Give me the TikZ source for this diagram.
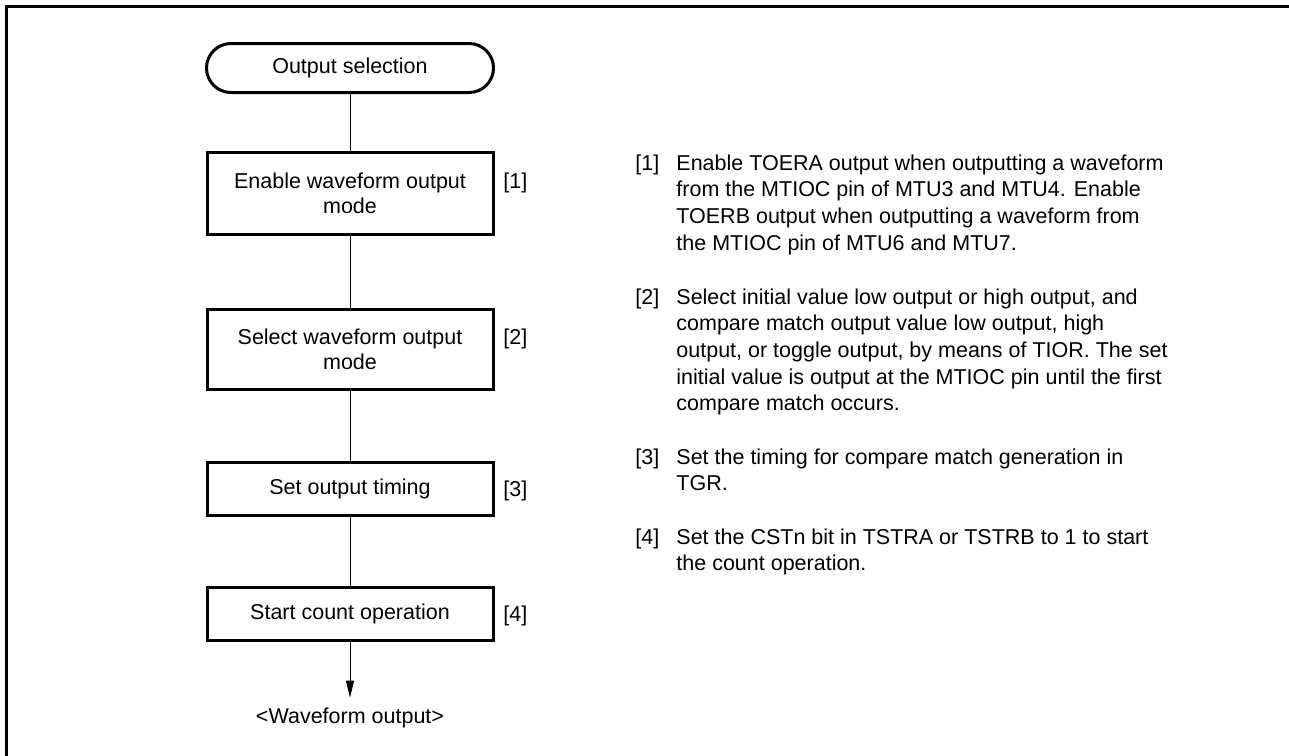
\documentclass[tikz,border=0pt]{standalone}
\usepackage{fontspec}
\setmainfont{Liberation Sans}
\usetikzlibrary{arrows.meta}
\begin{document}
\begin{tikzpicture}[x=0.5pt,y=-0.5pt,
  every node/.style={font=\fontsize{10.75}{12.5}\selectfont},
  stepbox/.style={draw, line width=1.5pt, minimum width=143pt, align=center, inner sep=0pt},
  term/.style={draw, line width=1.5pt, minimum width=143.5pt, minimum height=24.5pt, rounded corners=12.25pt, inner sep=0pt},
  conn/.style={line width=0.5pt},
  tag/.style={anchor=base west, inner sep=0pt},
  note/.style={anchor=base west, inner sep=0pt}]
\useasboundingbox (0,0) rectangle (1289,755);
% frame
\draw[line width=1.5pt, line join=miter] (6,770) -- (6,6) -- (1300,6);
% flowchart
\node[term] (t) at (350,68) {Output selection};
\node[stepbox, minimum height=41pt] (b1) at (350,193) {Enable waveform output\\mode};
\node[stepbox, minimum height=40pt] (b2) at (350,349) {Select waveform output\\mode};
\node[stepbox, minimum height=26.5pt] (b3) at (350,488.5) {Set output timing};
\node[stepbox, minimum height=26.5pt] (b4) at (350,613.5) {Start count operation};
\node[inner xsep=0pt, inner ysep=5pt] (out) at (350,718) {<Waveform output>};
\draw[conn] (t) -- (b1);
\draw[conn] (b1) -- (b2);
\draw[conn] (b2) -- (b3);
\draw[conn] (b3) -- (b4);
\draw[conn, -{Triangle[width=4pt,length=8.5pt]}] (b4) -- (out);
% box tags
\node[tag] (l1) at (503,188) {[1]};
\node[tag] (l2) at (503,344.5) {[2]};
\node[tag] (l3) at (503,496) {[3]};
\node[tag] (l4) at (503,621) {[4]};
% notes
\node[tag] (n1) at (635,170) {[1]};
\node[note] (m1) at (676,170) {\parbox[t]{300pt}{\fontsize{10.75}{13.35}\selectfont
Enable TOERA output when outputting a waveform\\
from the MTIOC pin of MTU3 and MTU4. Enable\\
TOERB output when outputting a waveform from\\
the MTIOC pin of MTU6 and MTU7.}};
\node[tag] (n2) at (635,304) {[2]};
\node[note] (m2) at (676,304) {\parbox[t]{300pt}{\fontsize{10.75}{13.35}\selectfont
Select initial value low output or high output, and\\
compare match output value low output, high\\
output, or toggle output, by means of TIOR. The set\\
initial value is output at the MTIOC pin until the first\\
compare match occurs.}};
\node[tag] (n3) at (635,464) {[3]};
\node[note] (m3) at (676,464) {\parbox[t]{300pt}{\fontsize{10.75}{13.35}\selectfont
Set the timing for compare match generation in\\
TGR.}};
\node[tag] (n4) at (635,544) {[4]};
\node[note] (m4) at (676,544) {\parbox[t]{300pt}{\fontsize{10.75}{13.35}\selectfont
Set the CSTn bit in TSTRA or TSTRB to 1 to start\\
the count operation.}};
\end{tikzpicture}
\end{document}
